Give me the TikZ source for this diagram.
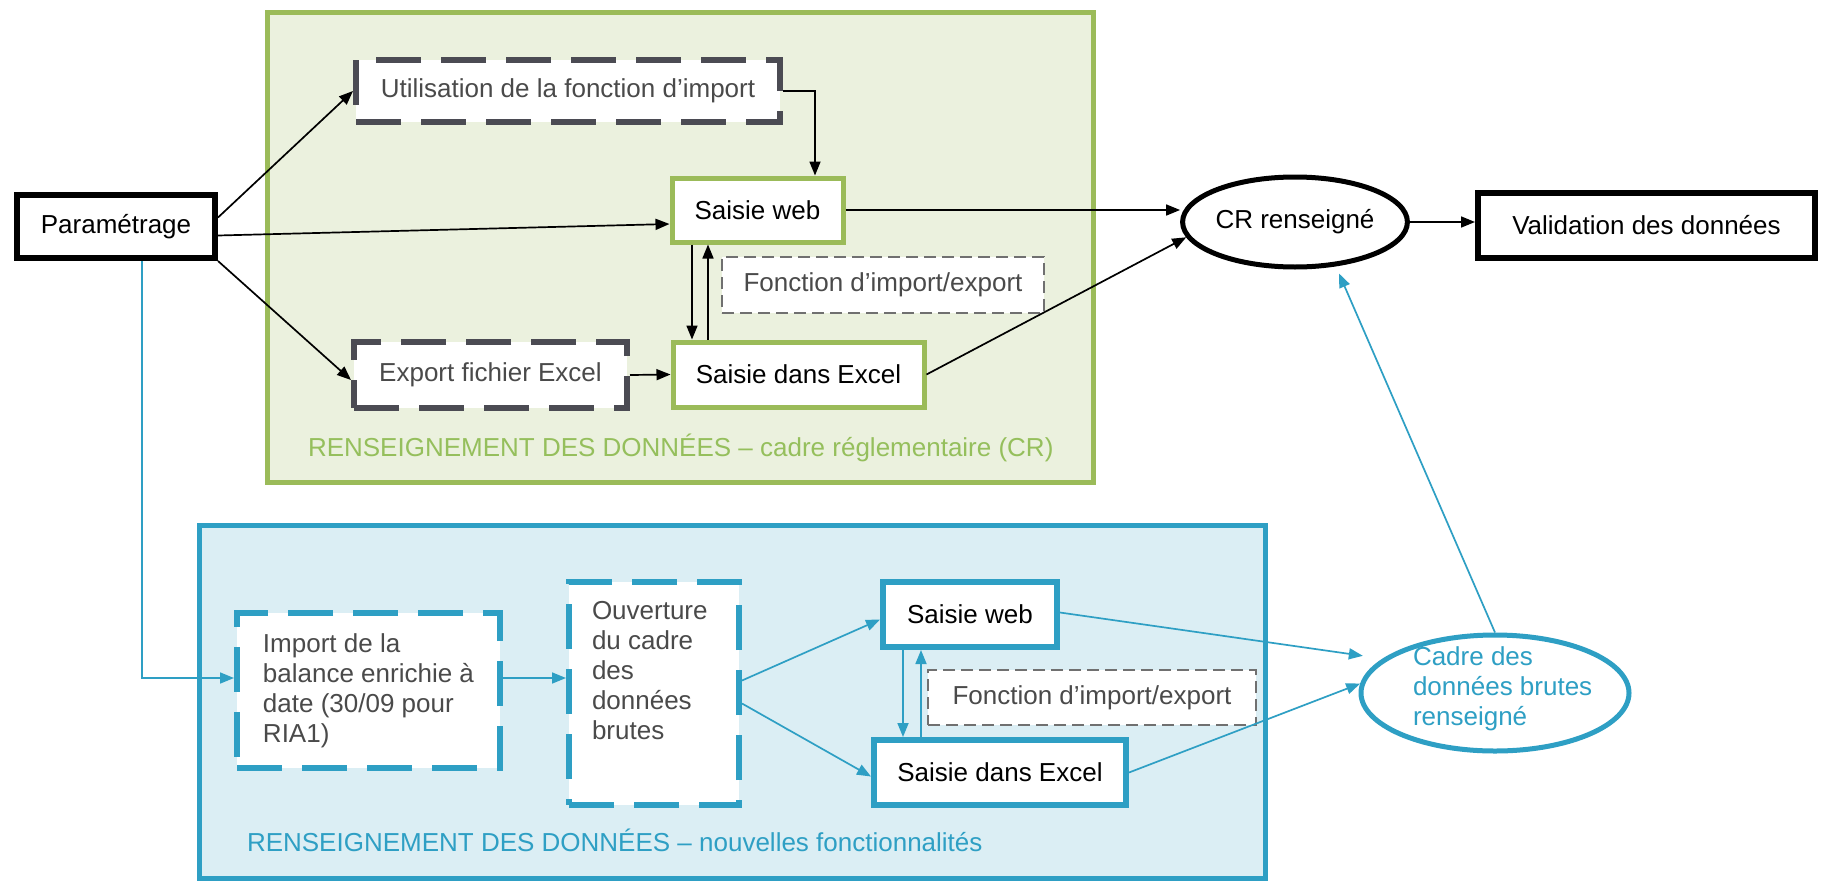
\documentclass[tikz,border=0pt]{standalone}
\usepackage{fontspec}
\setmainfont{Liberation Sans}
\usetikzlibrary{arrows.meta,shapes.geometric}
\definecolor{gborder}{HTML}{9BBB59}
\definecolor{gfill}{HTML}{EBF1DE}
\definecolor{gtext}{HTML}{95BF5C}
\definecolor{cborder}{HTML}{2E9FC4}
\definecolor{cfill}{HTML}{DBEEF4}
\definecolor{ctext}{HTML}{2E9FC4}
\definecolor{dgray}{HTML}{4B4B53}
\definecolor{tgray}{HTML}{4A4A4A}
\definecolor{lgray}{HTML}{707070}
\tikzset{
  every node/.style={font=\fontsize{26}{30}\selectfont, inner sep=0pt, outer sep=0pt},
  areabox/.style={line width=5pt},
  blackbox/.style={draw=black, line width=6pt, fill=white, outer sep=3pt},
  gdash/.style={draw=dgray, line width=6pt, dash pattern=on 45pt off 20pt, fill=white, text=tgray, outer sep=3pt},
  gsolid/.style={draw=gborder, line width=5pt, fill=white, outer sep=2.5pt},
  thindash/.style={draw=lgray, line width=1.5pt, dash pattern=on 12pt off 6pt, fill=white, text=tgray},
  cdash/.style={draw=cborder, line width=6pt, dash pattern=on 45pt off 20pt, fill=white, text=tgray, outer sep=3pt},
  csolid/.style={draw=cborder, line width=6pt, fill=white, outer sep=3pt},
  barrow/.style={draw=black, line width=1.7pt, -{Triangle[length=14pt,width=11pt]}},
  carrow/.style={draw=cborder, line width=1.7pt, -{Triangle[length=14pt,width=11pt]}},
}
\begin{document}
\begin{tikzpicture}[x=1pt,y=-1pt]
\useasboundingbox[fill=white] (0,0) rectangle (1823,881);

% areas
\node[areabox, draw=gborder, fill=gfill, minimum width=826pt, minimum height=470pt] (gbox) at (680,247) {};
\node[areabox, draw=cborder, fill=cfill, minimum width=1066pt, minimum height=353pt] (cbox) at (732,701.5) {};

% top part
\node[blackbox, minimum width=198pt, minimum height=63pt] (param) at (116,226.5) {Paramétrage};
\node[gdash, minimum width=424pt, minimum height=62pt] (util) at (568,91) {Utilisation de la fonction d’import};
\node[gsolid, minimum width=171pt, minimum height=64pt] (sweb) at (757.5,210) {Saisie web};
\node[thindash, minimum width=322pt, minimum height=56pt] (fonc1) at (883,285) {Fonction d’import/export};
\node[gdash, minimum width=273pt, minimum height=66pt] (export) at (490.5,375) {Export fichier Excel};
\node[gsolid, minimum width=251pt, minimum height=65pt] (sexcel) at (798.5,374.5) {Saisie dans Excel};
\node[anchor=west, text=gtext] (glabel) at (308,448) {RENSEIGNEMENT DES DONNÉES – cadre réglementaire (CR)};

\node[ellipse, draw=black, line width=5pt, fill=white, minimum width=220pt, minimum height=90pt, outer sep=2.5pt] (cr) at (1295,222) {CR renseigné};
\node[blackbox, minimum width=337pt, minimum height=65pt] (valid) at (1646.5,225) {Validation des données};

% bottom part
\node[cdash, minimum width=263pt, minimum height=155pt, align=left] (import) at (368.5,690.5) {Import de la\\balance enrichie à\\date (30/09 pour\\RIA1)};
\node[cdash, minimum width=170pt, minimum height=223pt] (ouv) at (654,693.5) {};
\node[anchor=north west, align=left, text=tgray] (ouvtext) at (592,601) {Ouverture\\du cadre\\des\\données\\brutes};
\node[csolid, minimum width=174pt, minimum height=65pt] (cweb) at (970,614.5) {Saisie web};
\node[thindash, minimum width=328pt, minimum height=55pt] (fonc2) at (1092,697.5) {Fonction d’import/export};
\node[csolid, minimum width=252pt, minimum height=65pt] (cexcel) at (1000,772.5) {Saisie dans Excel};
\node[anchor=west, text=ctext] (clabel) at (247,840) {RENSEIGNEMENT DES DONNÉES – nouvelles fonctionnalités};

\node[ellipse, draw=cborder, line width=5pt, fill=white, minimum width=268pt, minimum height=116pt, outer sep=2.5pt] (cadre) at (1495,693) {};
\node[anchor=west, align=left, text=ctext] (cadretext) at (1413,689) {Cadre des\\données brutes\\renseigné};

% helper coordinates
\coordinate (xa) at (815,0);
\coordinate (xd) at (692,0);
\coordinate (xu) at (708,0);
\coordinate (xc) at (142,0);
\coordinate (yi) at (0,678);
\coordinate (cxd) at (903,0);
\coordinate (cxu) at (921,0);

% black arrows
\draw[barrow] ([yshift=9pt]param.east) -- (util.west);
\draw[barrow] ([yshift=-9pt]param.east) -- ([yshift=-14pt]sweb.west);
\draw[barrow] (param.south east) -- ([yshift=-5pt]export.west);
\draw[barrow] (util.east) -| (sweb.north -| xa);
\draw[barrow] (sweb.south -| xd) -- (sexcel.north -| xd);
\draw[barrow] (sexcel.north -| xu) -- (sweb.south -| xu);
\draw[barrow] (export.east) -- (sexcel.west);
\draw[barrow] (sweb.east) -- (sweb.east -| cr.west);
\draw[barrow] (sexcel.east) -- (cr.188);
\draw[barrow] (cr.east) -- (cr.east -| valid.west);

% cyan arrows
\draw[carrow] (param.south -| xc) |- (import.west |- yi);
\draw[carrow] (import.east |- yi) -- (ouv.west |- yi);
\draw[carrow] ([yshift=13pt]ouv.east) -- ([yshift=-5pt]cweb.west);
\draw[carrow] ([yshift=-10pt]ouv.east) -- ([yshift=-4pt]cexcel.west);
\draw[carrow] (cweb.south -| cxd) -- (cexcel.north -| cxd);
\draw[carrow] (cexcel.north -| cxu) -- (cweb.south -| cxu);
\draw[carrow, shorten >=20pt] ([yshift=2pt]cweb.east) -- (cadre.163);
\draw[carrow] (cexcel.east) -- (cadre.176);
\draw[carrow] (cadre.north) -- ([xshift=44pt,yshift=-4pt]cr.south);
\end{tikzpicture}
\end{document}
